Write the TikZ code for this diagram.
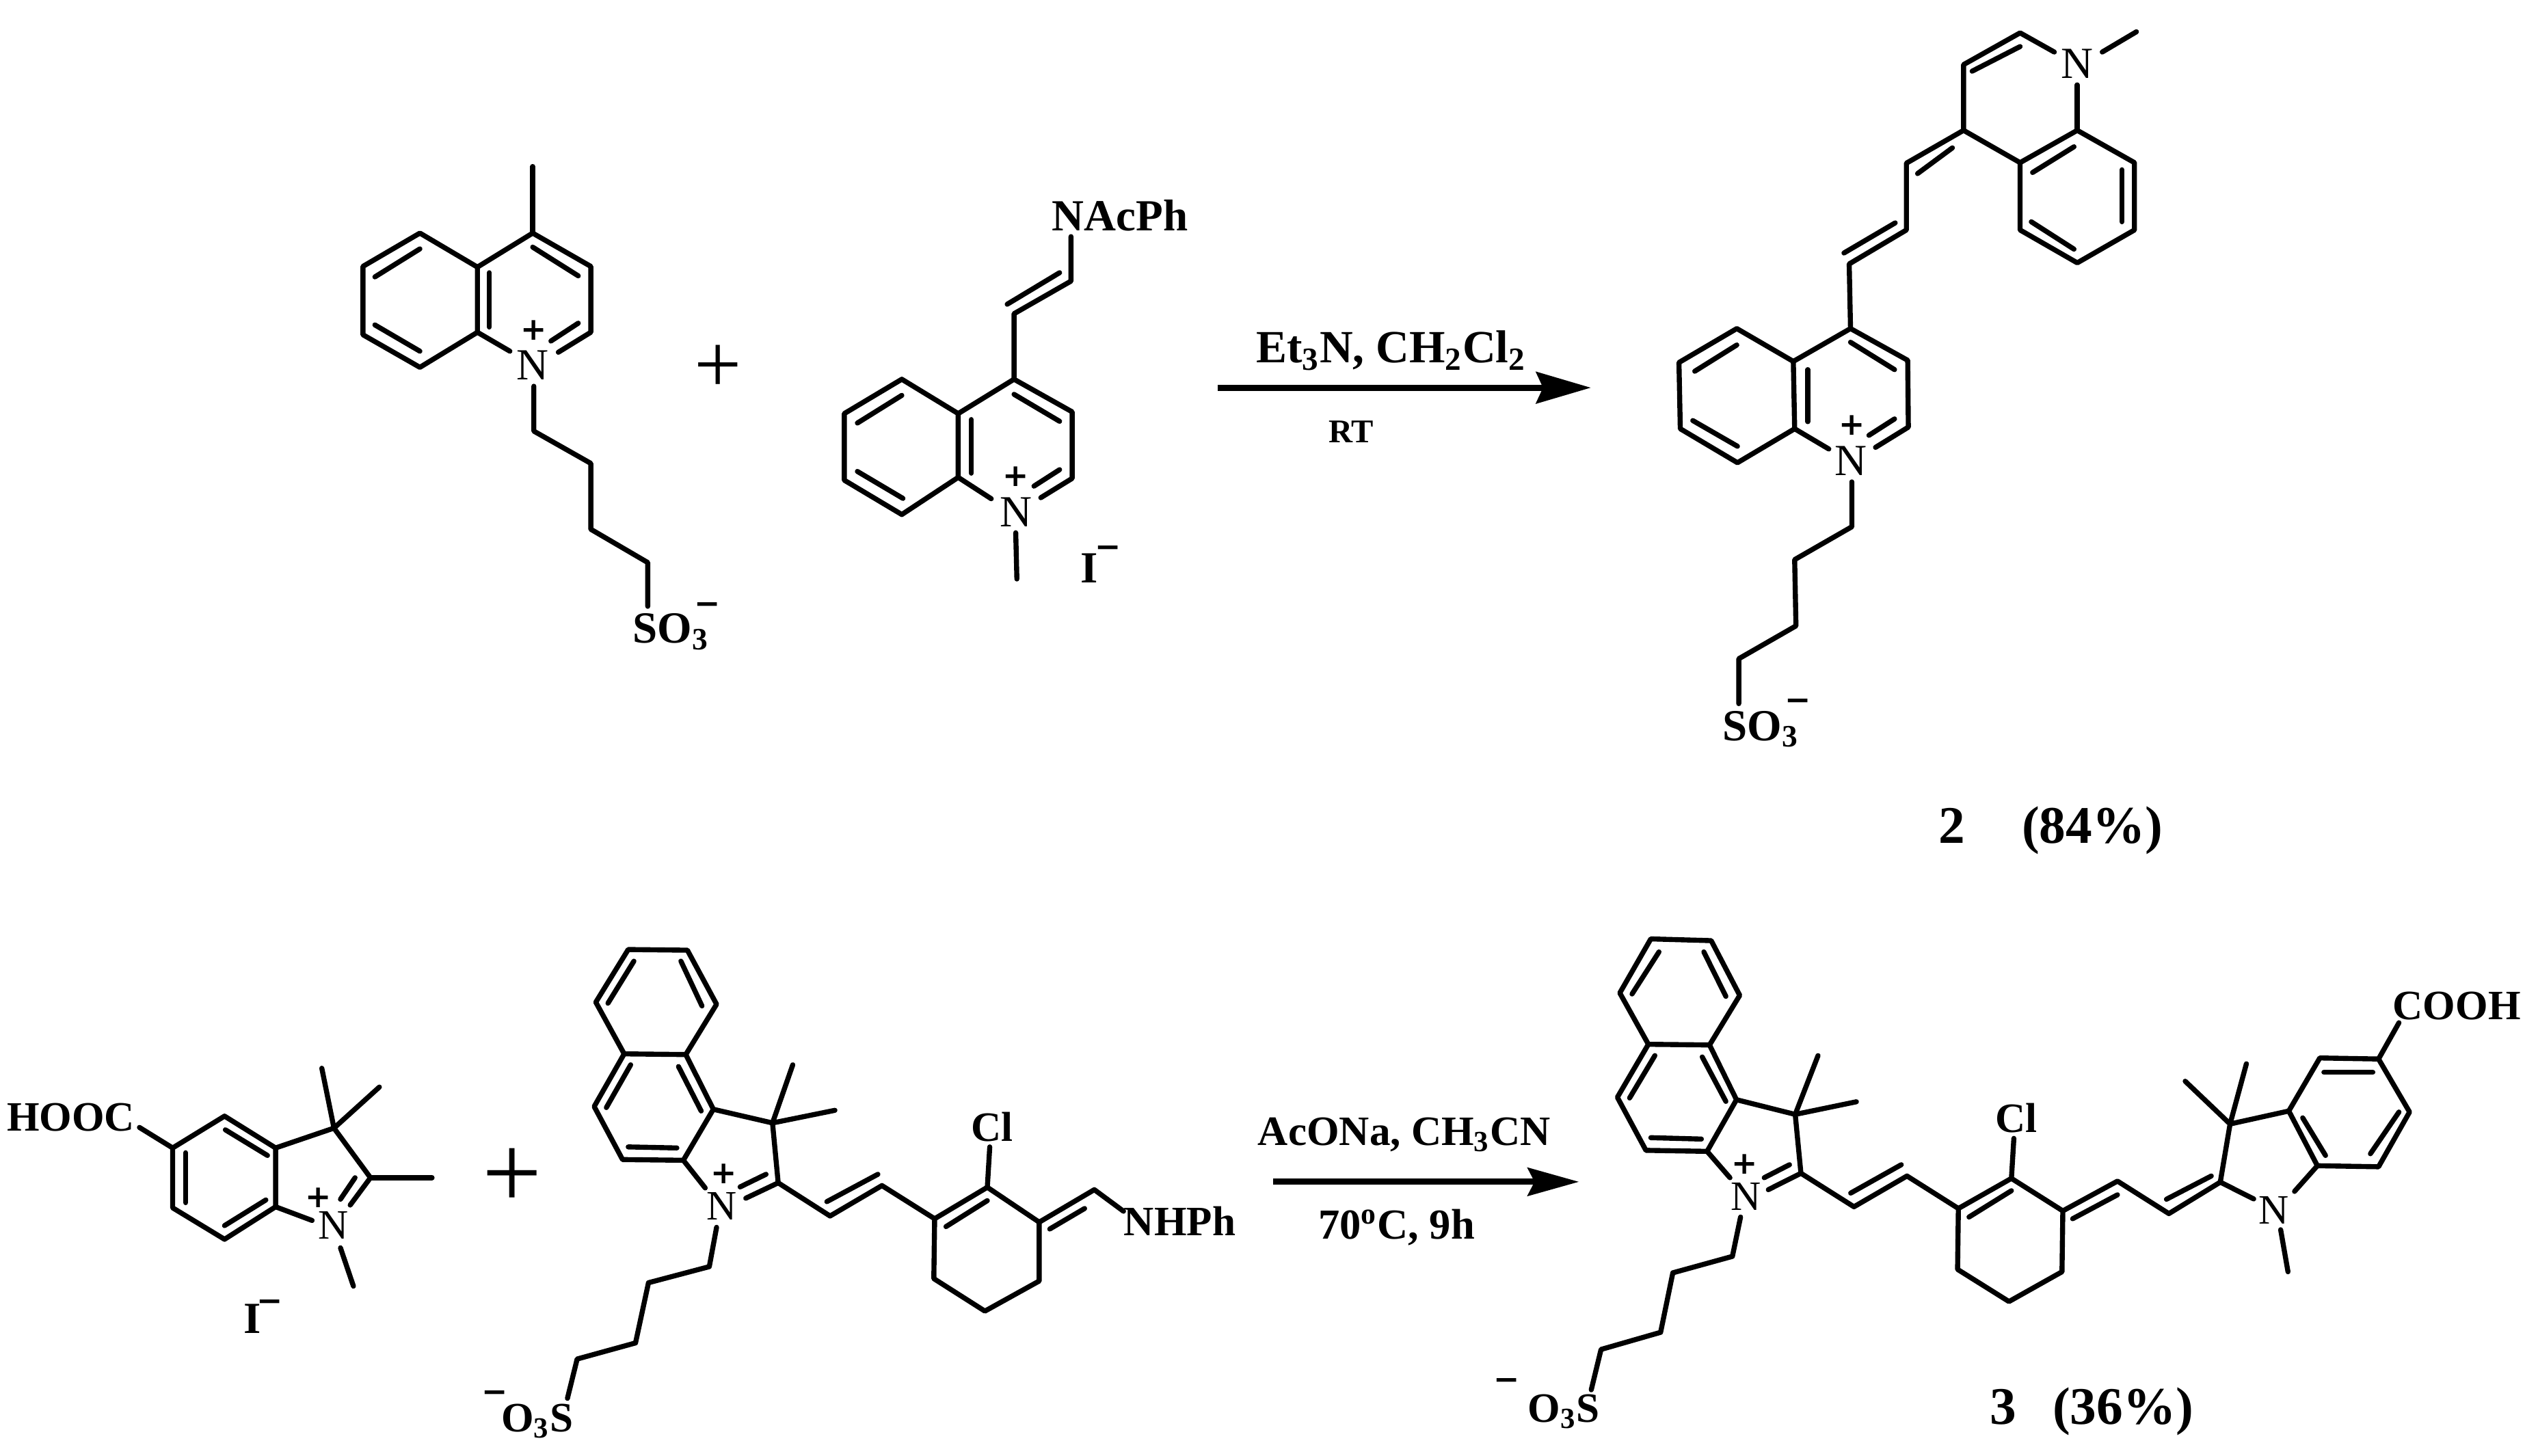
\documentclass[tikz,border=0pt]{standalone}
\usepackage{fontspec}
\setmainfont{Liberation Serif}
\newfontfamily\chargefont{DejaVu Sans}
\usepackage{tikz}
\usetikzlibrary{arrows.meta}
\tikzset{
  bond/.style={line width=2.1pt,line cap=round,line join=round},
  atom/.style={anchor=base,inner sep=0pt,font=\fontsize{18.5}{20}\selectfont},
  atomsm/.style={anchor=base,inner sep=0pt,font=\fontsize{17.4}{20}\selectfont},
  label/.style={anchor=base west,inner sep=0pt,font=\fontsize{18.5}{20}\selectfont\bfseries},
  labelsm/.style={anchor=base west,inner sep=0pt,font=\fontsize{17.4}{20}\selectfont\bfseries},
  chlorine/.style={anchor=base,inner sep=0pt,font=\fontsize{17.4}{20}\selectfont\bfseries},
  iodide/.style={anchor=base,inner sep=0pt,font=\fontsize{18.5}{20}\selectfont\bfseries},
  charge/.style={anchor=base,inner sep=0pt,font=\fontsize{13}{15}\chargefont\bfseries},
  yield/.style={anchor=base west,inner sep=0pt,font=\fontsize{22}{24}\selectfont\bfseries},
  addplus/.style={anchor=base,inner sep=0pt},
  panelA/.style={shift={(4.5,-2)},x=0.008333cm,y=-0.005128cm},
  panelB/.style={shift={(17.5,0)},x=0.009615cm,y=-0.008013cm},
  panelC/.style={shift={(0,-13.5)},x=0.01186cm,y=-0.005cm},
  panelD/.style={shift={(18.5,-13.5)},x=0.011936cm,y=-0.005cm},
  rxnarrow/.style={line width=2.5pt,-{Stealth[length=0.8cm,width=0.46cm,inset=0.1cm]}}
}
\begin{document}
\begin{tikzpicture}
\useasboundingbox (0,0) rectangle (37.12,-21.29);

% top left reactants
\begin{scope}[panelA]
\draw[bond] (395,85) -- (395,275);
\draw[bond] (298,372) -- (197,275) -- (97,370) -- (97,565) -- (197,658) -- (298,558) -- cycle;
\draw[bond] (298,372) -- (395,275) -- (497,370) -- (497,558) -- (440,615);
\draw[bond] (298,558) -- (355,612);
\draw[bond] (197,320) -- (118,400);
\draw[bond] (118,537) -- (197,612);
\draw[bond] (319,388) -- (319,543);
\draw[bond] (395,315) -- (475,397);
\draw[bond] (475,532) -- (427,583);
\draw[bond] (397,712) -- (397,840) -- (497,932) -- (497,1120) -- (597,1215) -- (597,1340);
\node[atom] (nA) at (395,693) {N};
\node[charge] (plusA) at (397,580) {+};
\node[label] (so3A) at (570,1445) {SO\textsubscript{3}};
\node[charge] (minusA) at (702,1363) {−};
\node[addplus,font=\fontsize{35}{38}\selectfont] (addA) at (720,731) {+};
% methine salt
\draw[bond] (1340,285) -- (1340,412) -- (1240,505) -- (1240,692);
\draw[bond] (1320,388) -- (1228,478);
\draw[bond] (1142,790) -- (1043,692) -- (942,790) -- (942,980) -- (1043,1078) -- (1142,972) -- cycle;
\draw[bond] (1142,790) -- (1240,692) -- (1342,785) -- (1342,975) -- (1287,1030);
\draw[bond] (1142,972) -- (1200,1033);
\draw[bond] (1043,738) -- (965,817);
\draw[bond] (965,955) -- (1045,1032);
\draw[bond] (1165,807) -- (1165,960);
\draw[bond] (1240,735) -- (1320,812);
\draw[bond] (1320,950) -- (1275,997);
\draw[bond] (1243,1130) -- (1245,1262);
\node[label] (nacph) at (1306,268) {NAcPh};
\node[atom] (nB) at (1243,1112) {N};
\node[charge] (plusB) at (1243,998) {+};
\node[iodide] (iodA) at (1372,1272) {I};
\node[charge] (minusB) at (1405,1200) {−};
\end{scope}

% top arrow and product 2
\begin{scope}[panelB]
\coordinate (arrS) at (32,708);
\coordinate (arrE) at (600,708);
\draw[rxnarrow] (arrS) -- (arrE);
\node[label,font=\fontsize{19.2}{22}\selectfont\bfseries] (condA) at (90,662) {Et\textsubscript{3}N, CH\textsubscript{2}Cl\textsubscript{2}};
\node[anchor=base,inner sep=0pt,font=\fontsize{13.8}{16}\selectfont\bfseries] (rt) at (235,808) {RT};
\draw[bond] (908,660) -- (822,600) -- (734,662) -- (736,783) -- (823,845) -- (910,783) -- cycle;
\draw[bond] (908,660) -- (995,600) -- (1082,658) -- (1083,780) -- (1033,817);
\draw[bond] (910,783) -- (962,820);
\draw[bond] (822,630) -- (758,678);
\draw[bond] (755,768) -- (823,815);
\draw[bond] (930,675) -- (930,770);
\draw[bond] (995,625) -- (1062,675);
\draw[bond] (1062,765) -- (1023,795);
\draw[bond] (995,600) -- (993,482) -- (1080,420) -- (1080,298) -- (1167,238) -- (1167,118) -- (1253,60) -- (1305,95);
\draw[bond] (985,462) -- (1063,407);
\draw[bond] (1097,317) -- (1150,270);
\draw[bond] (1180,130) -- (1253,85);
\draw[bond] (1167,238) -- (1253,297) -- (1340,238) -- (1427,297) -- (1427,420) -- (1340,480) -- (1253,420) -- (1253,297);
\draw[bond] (1272,315) -- (1335,268);
\draw[bond] (1408,310) -- (1408,405);
\draw[bond] (1335,455) -- (1270,405);
\draw[bond] (1340,155) -- (1340,238);
\draw[bond] (1378,95) -- (1430,58);
\draw[bond] (997,880) -- (997,962) -- (910,1022) -- (912,1143) -- (825,1203) -- (825,1285);
\node[atom] (nC) at (995,868) {N};
\node[charge] (plusC) at (997,795) {+};
\node[atom] (nD) at (1340,143) {N};
\node[label] (so3B) at (800,1352) {SO\textsubscript{3}};
\node[charge] (minusC) at (915,1298) {−};
\node[yield] (num2) at (1128,1540) {2};
\node[yield] (yield2) at (1255,1540) {(84\%)};
\end{scope}

% bottom left reactants
\begin{scope}[panelC]
\draw[bond] (277,565) -- (213,658) -- (213,833) -- (277,925) -- (340,830) -- (340,658) -- cycle;
\draw[bond] (278,605) -- (330,680);
\draw[bond] (229,672) -- (229,818);
\draw[bond] (277,885) -- (328,810);
\draw[bond] (340,658) -- (412,600) -- (457,745) -- (432,825);
\draw[bond] (438,745) -- (420,808);
\draw[bond] (340,830) -- (385,870);
\draw[bond] (412,600) -- (397,425);
\draw[bond] (412,600) -- (468,480);
\draw[bond] (457,745) -- (533,745);
\draw[bond] (172,598) -- (213,658);
\draw[bond] (420,950) -- (436,1062);
\node[labelsm] (hooc) at (8,608) {HOOC};
\node[atomsm] (nE) at (411,925) {N};
\node[charge] (plusE) at (393,832) {+};
\node[iodide] (iodB) at (311,1200) {I};
\node[charge] (minusE) at (333,1136) {−};
\node[addplus,font=\fontsize{44}{46}\selectfont] (addB) at (632,834) {+};
% chloro cyclohexene salt
\draw[bond] (775,78) -- (848,80) -- (884,238) -- (846,385) -- (770,383) -- (735,232) -- cycle;
\draw[bond] (782,112) -- (750,235);
\draw[bond] (840,112) -- (866,243);
\draw[bond] (770,383) -- (733,537) -- (768,692) -- (843,694) -- (880,545) -- (846,385);
\draw[bond] (778,415) -- (748,540);
\draw[bond] (775,655) -- (835,658);
\draw[bond] (837,420) -- (865,550);
\draw[bond] (880,545) -- (953,585) -- (960,760) -- (920,805);
\draw[bond] (843,694) -- (870,775);
\draw[bond] (945,735) -- (913,772);
\draw[bond] (953,585) -- (978,415);
\draw[bond] (953,585) -- (1030,548);
\draw[bond] (960,760) -- (1024,857) -- (1088,768) -- (1153,865);
\draw[bond] (1020,815) -- (1083,735);
\draw[bond] (1153,865) -- (1218,773) -- (1282,875) -- (1282,1047) -- (1215,1135) -- (1152,1040) -- cycle;
\draw[bond] (1167,888) -- (1218,812);
\draw[bond] (1218,773) -- (1221,655);
\draw[bond] (1282,875) -- (1350,780) -- (1386,843);
\draw[bond] (1295,895) -- (1338,835);
\draw[bond] (884,890) -- (875,1005) -- (800,1052) -- (784,1228) -- (712,1275) -- (700,1390);
\node[atomsm] (nF) at (890,868) {N};
\node[charge] (plusF) at (893,762) {+};
\node[chlorine] (clA) at (1224,638) {Cl};
\node[labelsm] (nhph) at (1386,915) {NHPh};
\node[labelsm] (o3sA) at (618,1488) {O\textsubscript{3}S};
\node[charge] (minusF) at (610,1402) {−};
\end{scope}

% bottom arrow and product 3
\begin{scope}[panelD]
\coordinate (arrT) at (10,757);
\coordinate (arrF) at (385,757);
\draw[rxnarrow,-{Stealth[length=0.75cm,width=0.41cm,inset=0.1cm]}] (arrT) -- (arrF);
\node[labelsm] (condB) at (-9,650) {AcONa, CH\textsubscript{3}CN};
\node[labelsm,font=\fontsize{17.8}{20}\selectfont\bfseries] (condC) at (65,925) {70\textsuperscript{o}C, 9h};
\draw[bond] (473,47) -- (547,52) -- (582,212) -- (545,357) -- (470,355) -- (435,205) -- cycle;
\draw[bond] (483,85) -- (450,208);
\draw[bond] (538,85) -- (565,215);
\draw[bond] (470,355) -- (432,510) -- (467,665) -- (542,668) -- (578,517) -- (545,357);
\draw[bond] (478,388) -- (447,512);
\draw[bond] (473,628) -- (535,632);
\draw[bond] (536,392) -- (565,522);
\draw[bond] (578,517) -- (650,560) -- (657,732) -- (617,780);
\draw[bond] (542,668) -- (570,745);
\draw[bond] (643,707) -- (612,745);
\draw[bond] (650,560) -- (678,388);
\draw[bond] (650,560) -- (725,523);
\draw[bond] (657,732) -- (722,830) -- (787,740) -- (850,835);
\draw[bond] (718,790) -- (780,707);
\draw[bond] (850,835) -- (915,747) -- (978,842) -- (977,1020) -- (912,1107) -- (849,1013) -- cycle;
\draw[bond] (863,860) -- (915,783);
\draw[bond] (915,747) -- (918,630);
\draw[bond] (978,842) -- (1045,755) -- (1108,850) -- (1171,758) -- (1212,807);
\draw[bond] (990,865) -- (1045,795);
\draw[bond] (1105,808) -- (1160,740);
\draw[bond] (1171,758) -- (1183,588) -- (1128,463);
\draw[bond] (1183,588) -- (1203,412);
\draw[bond] (1183,588) -- (1255,550);
\draw[bond] (1255,550) -- (1293,395) -- (1365,398) -- (1403,553) -- (1365,713) -- (1290,710) -- cycle;
\draw[bond] (1298,437) -- (1358,437);
\draw[bond] (1390,553) -- (1355,675);
\draw[bond] (1272,570) -- (1300,680);
\draw[bond] (1365,398) -- (1390,292);
\draw[bond] (1290,710) -- (1262,785);
\draw[bond] (1245,897) -- (1254,1020);
\draw[bond] (583,860) -- (573,975) -- (500,1023) -- (485,1197) -- (412,1247) -- (400,1365);
\node[atomsm] (nG) at (590,840) {N};
\node[charge] (plusG) at (588,735) {+};
\node[chlorine] (clB) at (921,612) {Cl};
\node[atomsm] (nH) at (1237,880) {N};
\node[labelsm] (cooh) at (1382,283) {COOH};
\node[labelsm] (o3sB) at (322,1460) {O\textsubscript{3}S};
\node[charge] (minusG) at (296,1365) {−};
\node[yield] (num3) at (888,1465) {3};
\node[yield] (yield3) at (965,1465) {(36\%)};
\end{scope}

\end{tikzpicture}
\end{document}
